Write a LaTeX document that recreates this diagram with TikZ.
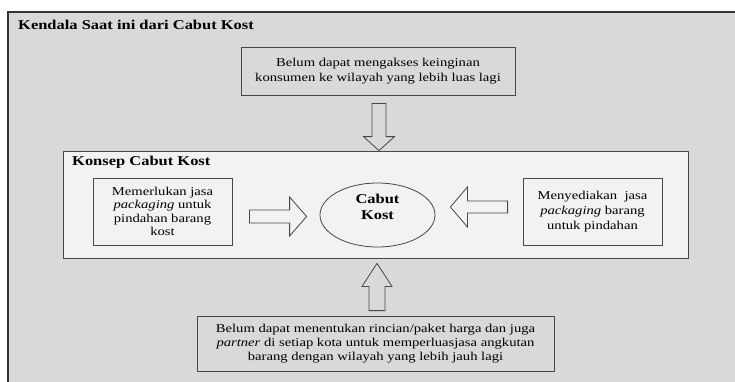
\documentclass[tikz,border=0pt]{standalone}
\usepackage{fontspec}
\setmainfont{Liberation Serif}[FakeStretch=1.22]
\usetikzlibrary{calc,shapes.geometric}
\definecolor{bggray}{HTML}{D9D9D9}
\definecolor{innergray}{HTML}{F2F2F2}
\definecolor{linegray}{HTML}{474747}
\newcommand\bodyfontA{\fontsize{12}{15}\selectfont}
\newcommand\bodyfontB{\fontsize{12}{13.5}\selectfont}
\newcommand\bodyfontC{\fontsize{12}{14}\selectfont}
\newcommand\hdrfont{\fontsize{13.5}{15.5}\selectfont\bfseries}
\tikzset{
  box/.style={draw=linegray, line width=0.8pt, align=center, inner sep=0pt},
  hdr/.style={anchor=west, inner sep=0pt, font=\hdrfont},
  blockarrow/.style n args={3}{draw=linegray, line width=0.8pt, line join=miter,
    to path={let \p1=(\tikztostart), \p2=(\tikztotarget), \p3=($(\tikztotarget)!#3!(\tikztostart)$) in
      ($(\p1)!#1!90:(\p2)$) -- ($(\p3)!#1!90:(\p2)$) -- ($(\p3)!#2!90:(\p2)$) -- (\p2)
      -- ($(\p3)!#2!-90:(\p2)$) -- ($(\p3)!#1!-90:(\p2)$) -- ($(\p1)!#1!-90:(\p2)$) -- cycle}}
}
\begin{document}
\begin{tikzpicture}[x=1pt,y=-1pt]
\fill[white] (0,0) rectangle (735,381);
\useasboundingbox (0,0) rectangle (735,381);
\filldraw[fill=bggray, draw=black!80, line width=1.3pt] (8,12) rectangle (760,400);
\node[hdr] (title) at (18,25) {Kendala Saat ini dari Cabut Kost};
\node[box, fill=bggray, minimum width=274pt, minimum height=48pt, font=\bodyfontA] (top) at (378,71)
  {Belum dapat mengakses keinginan\\konsumen ke wilayah yang lebih luas lagi};
\node[draw=linegray, line width=0.8pt, fill=innergray, minimum width=625pt, minimum height=107pt, inner sep=0pt] (inner) at (375.5,204.5) {};
\node[hdr] (konsep) at (72,162) {Konsep Cabut Kost};
\node[box, fill=innergray, minimum width=139pt, minimum height=67pt, font=\bodyfontB] (L) at (162.5,211.5)
  {Memerlukan jasa\\\textit{packaging} untuk\\pindahan barang\\kost};
\node[box, fill=innergray, minimum width=139pt, minimum height=67pt, font=\bodyfontA] (R) at (592.5,211.5)
  {Menyediakan\ \ jasa\\\textit{packaging} barang\\untuk pindahan};
\node[ellipse, draw=linegray, line width=0.8pt, minimum width=115pt, minimum height=64pt, inner sep=0pt] (E) at (377.5,215) {};
\node[font=\hdrfont, align=center, inner sep=0pt] (Etxt) at ($(E)+(0,-8)$) {Cabut\\Kost};
\node[box, fill=bggray, minimum width=357pt, minimum height=55pt, font=\bodyfontC] (bot) at (375.5,343.5)
  {Belum dapat menentukan rincian/paket harga dan juga\\\textit{partner} di setiap kota untuk memperluasjasa angkutan\\barang dengan wilayah yang lebih jauh lagi};
\coordinate (a1s) at ($(top.south)+(1,8)$);
\coordinate (a1t) at (a1s |- inner.north);
\draw[blockarrow={7pt}{15.5pt}{14pt}] (a1s) to (a1t);
\coordinate (a2s) at ($(bot.north)+(1.5,-5)$);
\coordinate (a2t) at ($(a2s |- inner.south)+(0,5)$);
\draw[blockarrow={8pt}{15pt}{23pt}] (a2s) to (a2t);
\coordinate (a3s) at ($(L.east)+(17,5)$);
\coordinate (a3t) at ($(a3s -| E.west)+(-13,0)$);
\draw[blockarrow={6.5pt}{19.5pt}{17pt}] (a3s) to (a3t);
\coordinate (a4s) at ($(R.west)+(-15,-4.5)$);
\coordinate (a4t) at ($(a4s -| E.east)+(15,0)$);
\draw[blockarrow={6pt}{20pt}{17pt}] (a4s) to (a4t);
\end{tikzpicture}
\end{document}
